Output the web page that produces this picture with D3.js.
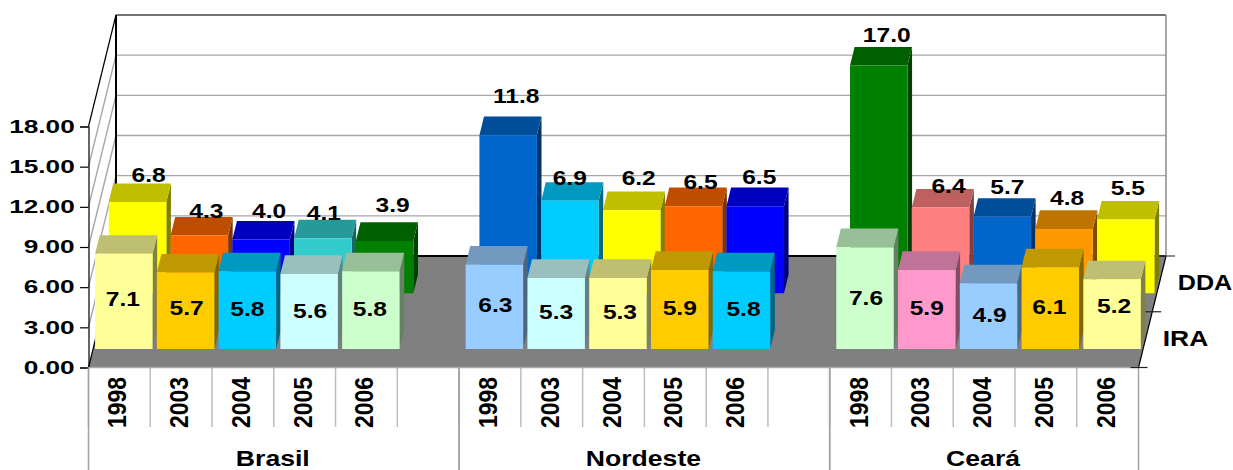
<!DOCTYPE html>
<html>
<head>
<meta charset="utf-8">
<script src="https://cdn.jsdelivr.net/npm/d3@7"></script>
<style>
  html, body { margin: 0; background: #fff; }
  svg { display: block; }
  text { font-family: "Liberation Sans", Arial, sans-serif; font-weight: bold; fill: #000; }
</style>
</head>
<body>
<div id="chart"></div>
<script>
// blank strings are the empty slots between the groups
const years = ["1998", "2003", "2004", "2005", "2006", "", "1998", "2003", "2004", "2005", "2006", "", "1998", "2003", "2004", "2005", "2006"];
const groups = ["Brasil", "Nordeste", "Ceará"];
const groupSizes = [6, 6, 5];
const seriesNames = ["IRA", "DDA"];
const iraValues = [7.1, 5.7, 5.8, 5.6, 5.8, null, 6.3, 5.3, 5.3, 5.9, 5.8, null, 7.6, 5.9, 4.9, 6.1, 5.2];
const ddaValues = [6.8, 4.3, 4.0, 4.1, 3.9, null, 11.8, 6.9, 6.2, 6.5, 6.5, null, 17.0, 6.4, 5.7, 4.8, 5.5];
const yTicks = [0, 3, 6, 9, 12, 15, 18];

const iraColors = ["#FFFF99", "#FFCC00", "#00CCFF", "#CCFFFF", "#CCFFCC", null, "#99CCFF", "#CCFFFF", "#FFFF99", "#FFCC00", "#00CCFF", null, "#CCFFCC", "#FF99CC", "#99CCFF", "#FFCC00", "#FFFF99"];
const ddaColors = ["#FFFF00", "#FF6600", "#0000FF", "#33CCCC", "#008000", null, "#0066CC", "#00CCFF", "#FFFF00", "#FF6600", "#0000FF", null, "#008000", "#FF8080", "#0066CC", "#FF9900", "#FFFF00"];

// hand placed data labels, [dx, dy] from the middle of the bar's front top edge
const iraLabelShift = [[-1, 45], [1, 35], [0, 37], [1, 37], [-1, 37], null, [1, 40], [0, 34], [2, 34], [0, 38], [2, 37], null, [1, 50], [0, 38], [1, 31], [-1, 39], [2, 26]];
const ddaLabelShift = [[11, -28], [7, -25], [8, -29], [1, -26], [8, -36], null, [8, -40], [0, -23], [7, -33], [7, -25], [4, -30], null, [8, -31], [8, -22], [5, -30], [3, -31], [2, -32]];

const width = 1233;
const height = 470;
const floorFront = 367.5; // y of the front floor edge
const wallTop = 241; // pixel height of 18 units
const rowDy = 55.75; // one series row of depth, on screen
const rowDx = 13.75;
const barW = 57.5;

const svg = d3.select("#chart").append("svg").attr("width", width).attr("height", height);

const x = d3.scaleBand().domain(d3.range(years.length)).range([88.5, 1138.5]);
const h = d3.scaleLinear().domain([0, 18]).range([0, wallTop]);

// z is depth in series rows, 0 at the front of the floor
const px = (xv, z) => xv + z * rowDx;
const py = (z, up) => floorFront - z * rowDy - up;
const pts = (arr) => arr.map((p) => p.join(",")).join(" ");

// bold Arial in the original is stretched sideways
function wideText(parent, tx, ty, str, size, sx, anchor) {
  return parent
    .append("text")
    .attr("transform", `translate(${tx},${ty}) scale(${sx},1)`)
    .attr("text-anchor", anchor || "middle")
    .attr("font-size", size + "px")
    .text(str);
}

const left = x.range()[0];
const right = x.range()[1];

// back wall and left wall
svg.append("polygon")
  .attr("points", pts([[px(left, 0), py(0, h(18))], [px(left, 2), py(2, h(18))], [px(right, 2), py(2, h(18))], [px(right, 2), py(2, 0)], [px(left, 2), py(2, 0)], [px(left, 0), py(0, 0)]]))
  .attr("fill", "#fff");

const grid = svg.append("g").attr("fill", "none");
yTicks.slice(1, -1).forEach((t) => {
  grid.append("polyline")
    .attr("points", pts([[px(left, 0), py(0, h(t))], [px(left, 2), py(2, h(t))], [px(right, 2), py(2, h(t))]]))
    .attr("stroke", "#a6a6a6")
    .attr("stroke-width", 1.4);
});

// floor
svg.append("polygon")
  .attr("points", pts([[px(left, 0), py(0, 0)], [px(left, 2), py(2, 0)], [px(right, 2), py(2, 0)], [px(right, 0), py(0, 0)]]))
  .attr("fill", "#808080");

const frame = svg.append("g").attr("fill", "none");
frame.append("line")
  .attr("x1", px(left, 2)).attr("y1", py(2, 0)).attr("x2", px(right, 2)).attr("y2", py(2, 0))
  .attr("stroke", "#000").attr("stroke-width", 2);
frame.append("line")
  .attr("x1", px(left, 2)).attr("y1", py(2, 0)).attr("x2", px(left, 2)).attr("y2", py(2, h(18)))
  .attr("stroke", "#000").attr("stroke-width", 2);
frame.append("line")
  .attr("x1", px(left, 2)).attr("y1", py(2, h(18))).attr("x2", px(right, 2)).attr("y2", py(2, h(18)))
  .attr("stroke", "#444").attr("stroke-width", 1.5);
frame.append("line")
  .attr("x1", px(right, 2)).attr("y1", py(2, h(18))).attr("x2", px(right, 2)).attr("y2", py(2, 0))
  .attr("stroke", "#8c8c8c").attr("stroke-width", 1.5);
frame.append("line")
  .attr("x1", px(left, 0)).attr("y1", py(0, h(18))).attr("x2", px(left, 2)).attr("y2", py(2, h(18)))
  .attr("stroke", "#000").attr("stroke-width", 1.2);
frame.append("line")
  .attr("x1", px(left, 0)).attr("y1", py(0, 0)).attr("x2", px(left, 2)).attr("y2", py(2, 0))
  .attr("stroke", "#000").attr("stroke-width", 1.2);
frame.append("line")
  .attr("x1", px(right, 0)).attr("y1", py(0, 0)).attr("x2", px(right, 2)).attr("y2", py(2, 0))
  .attr("stroke", "#000").attr("stroke-width", 1.2);

// value axis on the front left edge
const yAxisScale = d3.scaleLinear().domain([0, 18]).range([floorFront, floorFront - wallTop]);
const yAxis = svg.append("g")
  .attr("transform", `translate(${left},0)`)
  .call(d3.axisLeft(yAxisScale).tickValues(yTicks).tickFormat(d3.format(".2f")).tickSize(8.5));
yAxis.select(".domain").attr("stroke", "#000").attr("stroke-width", 1.2);
yAxis.selectAll(".tick line").attr("stroke", "#000").attr("stroke-width", 1.2);
yAxis.selectAll(".tick text")
  .attr("x", -10)
  .attr("dy", "0.3em")
  .attr("font-size", "19px")
  .attr("transform", "scale(1.38,1)")
  .style("font-family", '"Liberation Sans", Arial, sans-serif');

// bottom axis, two levels of separators
const lowAxis = svg.append("g");
years.forEach((d, i) => {
  lowAxis.append("line")
    .attr("x1", x(i)).attr("x2", x(i)).attr("y1", floorFront).attr("y2", 427)
    .attr("stroke", "#bdbdbd").attr("stroke-width", 1.5);
  if (d) {
    // squeezed along its length, as in the original
    lowAxis.append("text")
      .attr("transform", `translate(${x(i) + x.bandwidth() / 2 + 7},402.5) rotate(-90) scale(0.92,1)`)
      .attr("text-anchor", "middle")
      .attr("font-size", "25px")
      .text(d);
  }
});
lowAxis.append("line")
  .attr("x1", left).attr("x2", right).attr("y1", floorFront).attr("y2", floorFront)
  .attr("stroke", "#a9a9a9").attr("stroke-width", 1.5);

let slot = 0;
groups.forEach((g, k) => {
  const x0 = x(slot);
  const x1 = slot + groupSizes[k] < years.length ? x(slot + groupSizes[k]) : right;
  lowAxis.append("line")
    .attr("x1", x0).attr("x2", x0).attr("y1", floorFront).attr("y2", height)
    .attr("stroke", "#a3a3a3").attr("stroke-width", 1.5);
  lowAxis.append("line")
    .attr("x1", x1).attr("x2", x1).attr("y1", floorFront).attr("y2", height)
    .attr("stroke", "#a3a3a3").attr("stroke-width", 1.5);
  wideText(lowAxis, (x0 + x1) / 2 - 1, 466, g, 22, 1.21);
  slot += groupSizes[k];
});

// series axis on the right floor edge
const depthAxis = svg.append("g");
[0, 1, 2].forEach((z) => {
  depthAxis.append("line")
    .attr("x1", px(right, z) - 8).attr("x2", px(right, z) + 9)
    .attr("y1", py(z, 0)).attr("y2", py(z, 0))
    .attr("stroke", z === 2 ? "#444" : "#222").attr("stroke-width", 1.2);
});
wideText(depthAxis, 1185.5, 345.5, seriesNames[0], 22, 1.2);
wideText(depthAxis, 1205, 290, seriesNames[1], 22, 1.14);

function drawBars(values, colors, row) {
  const z0 = row + 1 / 3;
  const z1 = row + 2 / 3;
  const g = svg.append("g");
  values.forEach((v, i) => {
    if (v === null) return;
    const c = d3.rgb(colors[i]);
    const bx0 = x(i) + 2;
    const bx1 = bx0 + barW;
    const up = h(v);
    // right side
    g.append("polygon")
      .attr("points", pts([[px(bx1, z0), py(z0, 0)], [px(bx1, z1), py(z1, 0)], [px(bx1, z1), py(z1, up)], [px(bx1, z0), py(z0, up)]]))
      .attr("fill", d3.rgb(c.r * 0.5, c.g * 0.5, c.b * 0.5));
    // top
    g.append("polygon")
      .attr("points", pts([[px(bx0, z0), py(z0, up)], [px(bx0, z1), py(z1, up)], [px(bx1, z1), py(z1, up)], [px(bx1, z0), py(z0, up)]]))
      .attr("fill", d3.rgb(c.r * 0.75, c.g * 0.75, c.b * 0.75));
    // front
    g.append("polygon")
      .attr("points", pts([[px(bx0, z0), py(z0, 0)], [px(bx0, z0), py(z0, up)], [px(bx1, z0), py(z0, up)], [px(bx1, z0), py(z0, 0)]]))
      .attr("fill", c);
  });
}

function drawLabels(values, shifts, row) {
  const z0 = row + 1 / 3;
  const g = svg.append("g");
  values.forEach((v, i) => {
    if (v === null) return;
    const mid = px(x(i) + 2 + barW / 2, z0);
    wideText(g, mid + shifts[i][0], py(z0, h(v)) + shifts[i][1] + 7.5, v.toFixed(1), 21, 1.17);
  });
}

// back row first so the IRA bars sit in front
drawBars(ddaValues, ddaColors, 1);
drawBars(iraValues, iraColors, 0);
drawLabels(ddaValues, ddaLabelShift, 1);
drawLabels(iraValues, iraLabelShift, 0);
</script>
</body>
</html>
